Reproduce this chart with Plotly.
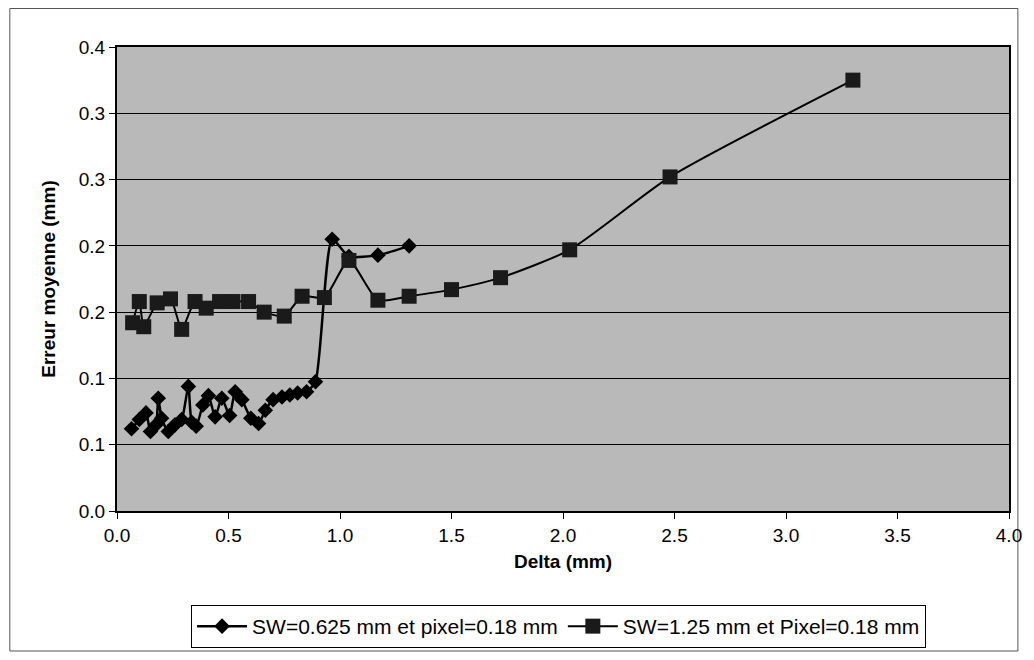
import plotly.graph_objects as go

# ---- data ----
series1_name = "SW=0.625 mm et pixel=0.18 mm"
series1_x = [0.065, 0.10, 0.13, 0.15, 0.175, 0.185, 0.20, 0.23, 0.26, 0.29, 0.32, 0.335,
             0.355, 0.385, 0.41, 0.44, 0.47, 0.505, 0.53, 0.56, 0.60, 0.635, 0.665, 0.70,
             0.74, 0.775, 0.81, 0.85, 0.89, 0.965, 1.04, 1.17, 1.31]
series1_y = [0.062, 0.069, 0.074, 0.060, 0.065, 0.085, 0.070, 0.060, 0.065, 0.069, 0.094, 0.067,
             0.064, 0.080, 0.087, 0.071, 0.085, 0.072, 0.090, 0.084, 0.070, 0.066, 0.076, 0.084,
             0.086, 0.0875, 0.089, 0.090, 0.0975, 0.205, 0.192, 0.193, 0.200]

series2_name = "SW=1.25 mm et Pixel=0.18 mm"
series2_x = [0.07, 0.10, 0.12, 0.18, 0.24, 0.29, 0.35, 0.40, 0.46, 0.52, 0.59, 0.66, 0.75,
             0.83, 0.93, 1.04, 1.17, 1.31, 1.50, 1.72, 2.03, 2.48, 3.30]
series2_y = [0.142, 0.158, 0.139, 0.157, 0.160, 0.137, 0.158, 0.153, 0.158, 0.158, 0.158, 0.150,
             0.147, 0.162, 0.161, 0.189, 0.159, 0.162, 0.167, 0.176, 0.197, 0.252, 0.325]

x_tick_vals = [0.0, 0.5, 1.0, 1.5, 2.0, 2.5, 3.0, 3.5, 4.0]
x_tick_text = ["0.0", "0.5", "1.0", "1.5", "2.0", "2.5", "3.0", "3.5", "4.0"]
y_tick_vals = [0.0, 0.05, 0.10, 0.15, 0.20, 0.25, 0.30, 0.35]
y_tick_text = ["0.0", "0.1", "0.1", "0.2", "0.2", "0.3", "0.3", "0.4"]

x_title = "Delta (mm)"
y_title = "Erreur moyenne (mm)"

# ---- figure ----
# page body has an 8px margin, so the figure is sized to fit the 1034x660 window
W, H = 1026, 652
L, R, T, B = 109, 14, 39, 149
font_family = "Liberation Sans, Arial, sans-serif"
pw = W - L - R
ph = H - T - B

def px_x(px):
    return (px - L) / pw

def px_y(py):
    return (H - B - py) / ph

fig = go.Figure()
fig.add_trace(go.Scatter(
    x=series1_x, y=series1_y, name=series1_name, mode="lines+markers",
    line=dict(color="black", width=2.5, shape="spline", smoothing=0.6),
    marker=dict(symbol="diamond", size=12, color="black"),
))
fig.add_trace(go.Scatter(
    x=series2_x, y=series2_y, name=series2_name, mode="lines+markers",
    line=dict(color="black", width=2, shape="spline", smoothing=0.6),
    marker=dict(symbol="square", size=15, color="#1a1a1a"),
))

# outer frame of the chart
fig.add_shape(type="rect", xref="paper", yref="paper",
              x0=px_x(0.5), x1=px_x(1021), y0=px_y(643), y1=px_y(0.5),
              line=dict(color="#555555", width=1), layer="below")

fig.update_layout(
    width=W, height=H,
    margin=dict(l=L, r=R, t=T, b=B),
    paper_bgcolor="white",
    plot_bgcolor="#b9b9b9",
    font=dict(family=font_family, size=19, color="black"),
    showlegend=True,
    legend=dict(
        orientation="h", x=px_x(556), xanchor="center", y=px_y(597), yanchor="top",
        bordercolor="black", borderwidth=1, bgcolor="white",
        font=dict(size=21), itemwidth=50, tracegroupgap=0,
    ),
    xaxis=dict(
        range=[0, 4], tickvals=x_tick_vals, ticktext=x_tick_text,
        showgrid=False, zeroline=False,
        ticks="outside", ticklen=6, tickcolor="black",
        showline=True, linecolor="black", linewidth=2, mirror=True,
        title=dict(text="<b>" + x_title + "</b>", standoff=10, font=dict(size=19)),
        tickfont=dict(size=19),
    ),
    yaxis=dict(
        range=[0, 0.35], tickvals=y_tick_vals, ticktext=y_tick_text,
        showgrid=True, gridcolor="black", gridwidth=1, zeroline=False,
        ticks="outside", ticklen=6, tickcolor="black",
        showline=True, linecolor="black", linewidth=2, mirror=True,
        title=dict(text="<b>" + y_title + "</b>", standoff=18, font=dict(size=19)),
        tickfont=dict(size=19),
    ),
)

fig.write_html("out.html")
